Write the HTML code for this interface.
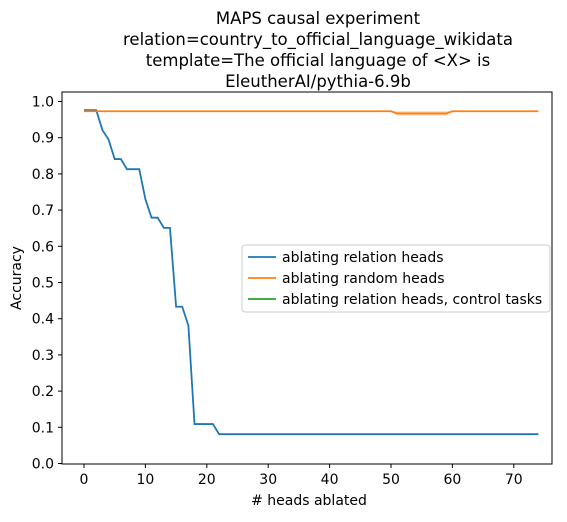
<!DOCTYPE html>
<html><head><meta charset="utf-8"><style>
body{margin:0;background:#fff;}
svg text{font-family:"DejaVu Sans","Liberation Sans",sans-serif;fill:#000;}
</style></head><body>
<svg id="chart" width="567" height="517" viewBox="0 0 567 517">
<g font-size="16.5" text-anchor="middle">
<text x="318" y="24">MAPS causal experiment</text>
<text x="318" y="45">relation=country_to_official_language_wikidata</text>
<text x="318" y="66">template=The official language of &lt;X&gt; is</text>
<text x="318" y="87">EleutherAI/pythia-6.9b</text>
</g>
<rect x="62" y="92" width="490" height="372" fill="none" stroke="#000" stroke-width="1"/>
<g id="xaxis"></g>
<g id="yaxis"></g>
<text x="309" y="505" font-size="14" text-anchor="middle"># heads ablated</text>
<text x="0" y="0" font-size="14" text-anchor="middle" transform="translate(21,278) rotate(-90)">Accuracy</text>
<g id="series"></g>
<g>
<rect x="242" y="245" width="308" height="67" rx="3" fill="#fff" fill-opacity="0.8" stroke="#ccc"/>
<line x1="248" y1="257" x2="276" y2="257" stroke="#1f77b4" stroke-width="1.8"/>
<text x="282" y="262" font-size="14">ablating relation heads</text>
<line x1="248" y1="278" x2="276" y2="278" stroke="#ff7f0e" stroke-width="1.8"/>
<text x="282" y="283" font-size="14">ablating random heads</text>
<line x1="248" y1="299" x2="276" y2="299" stroke="#2ca02c" stroke-width="1.8"/>
<text x="282" y="304" font-size="14">ablating relation heads, control tasks</text>
</g>
</svg>
<script>
const xTicks=[0,10,20,30,40,50,60,70];
const yTicks=[0,0.1,0.2,0.3,0.4,0.5,0.6,0.7,0.8,0.9,1.0];
const relationVals=[0.976,0.976,0.976,0.921,0.895,0.841,0.841,0.813,0.813,0.813,0.73,0.679,0.679,0.651,0.651,0.433,0.433,0.381,0.109,0.109,0.109,0.109,0.081];
const relationTail=0.081;
const randomBase=0.973;
const randomDipStart=51, randomDipEnd=59, randomDipVal=0.967, randomDipLow=0.961;
const nPoints=75;
const NS="http://www.w3.org/2000/svg";
const sx=v=>84+v*6.14;
const sy=v=>463.5-v*362;
function mk(tag,attrs,parent){const e=document.createElementNS(NS,tag);for(const k in attrs)e.setAttribute(k,attrs[k]);parent.appendChild(e);return e;}
const xa=document.getElementById('xaxis'),ya=document.getElementById('yaxis'),sg=document.getElementById('series');
xTicks.forEach(t=>{
 const l=mk('line',{x1:sx(t),x2:sx(t),y1:464,y2:468,stroke:'#000'},xa);
 
 
 const tx=mk('text',{x:sx(t),y:484,'font-size':14,'text-anchor':'middle'},xa);tx.textContent=t;
 
 
});
yTicks.forEach(t=>{
 const l=mk('line',{x1:58,x2:62,y1:sy(t),y2:sy(t),stroke:'#000'},ya);
 
 
 const tx=mk('text',{x:54,y:sy(t)+5,'font-size':14,'text-anchor':'end'},ya);tx.textContent=t.toFixed(1);
 
 
});
const rel=[],rnd=[],lo=[],hi=[];
for(let i=0;i<nPoints;i++){
 rel.push(i<relationVals.length?relationVals[i]:relationTail);
 const dip=i>=randomDipStart&&i<=randomDipEnd;
 rnd.push(dip?randomDipVal:randomBase);
 lo.push(dip?randomDipLow:randomBase);hi.push(randomBase);
}
const pts=a=>a.map((v,i)=>sx(i)+','+sy(v)).join(' ');
const band=mk('polygon',{points:pts(hi)+' '+lo.map((v,i)=>[i,v]).reverse().map(p=>sx(p[0])+','+sy(p[1])).join(' '),fill:'#ff7f0e','fill-opacity':0.3},sg);


const b=mk('polyline',{points:pts(rel),fill:'none',stroke:'#1f77b4','stroke-width':1.8},sg);


const o=mk('polyline',{points:pts(rnd),fill:'none',stroke:'#ff7f0e','stroke-width':1.8},sg);


</script>
</body></html>
